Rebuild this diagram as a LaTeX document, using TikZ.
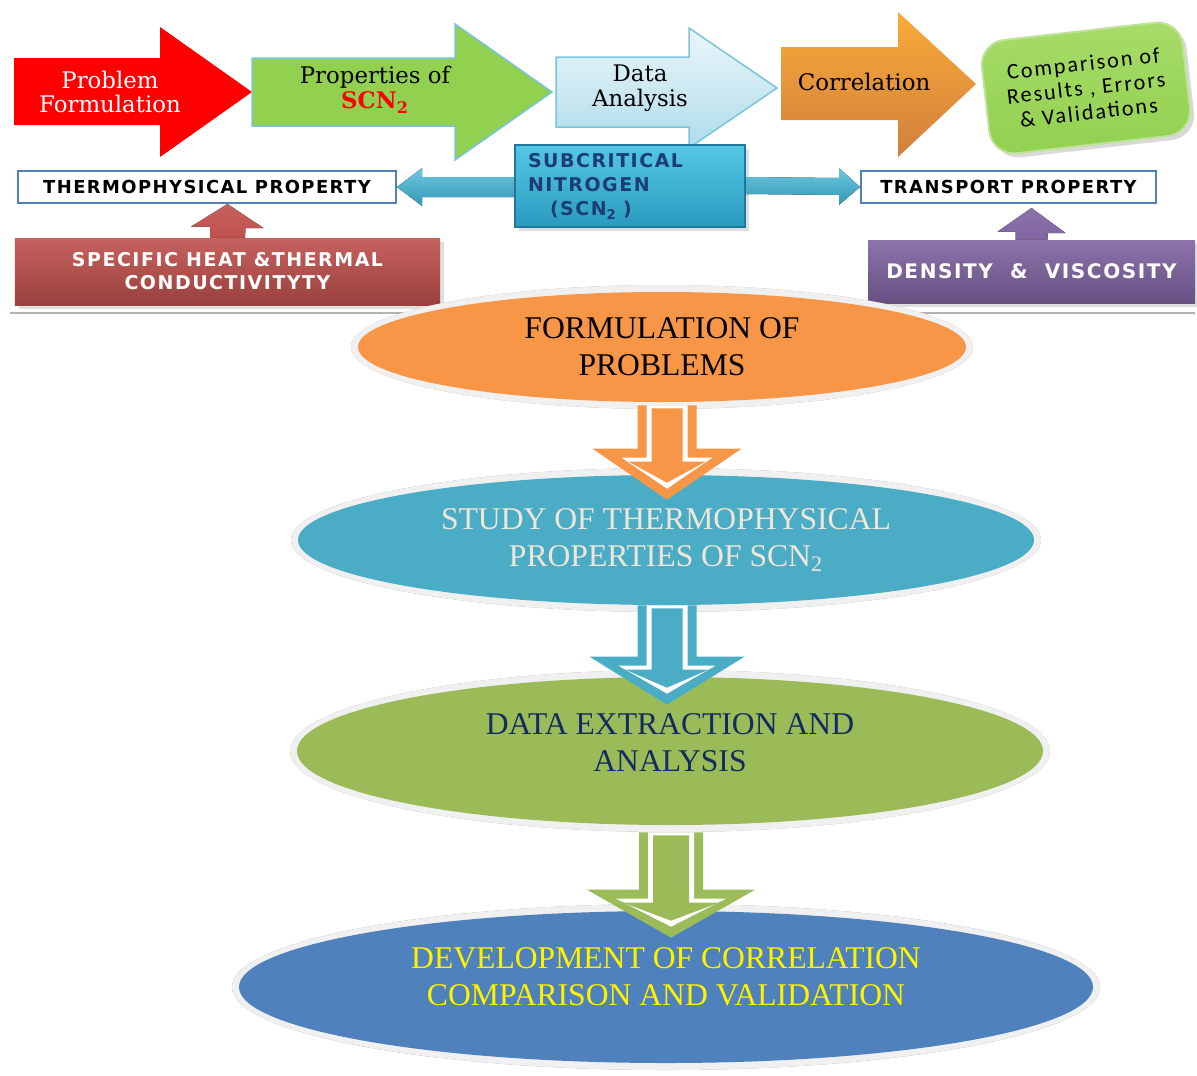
\documentclass[tikz,border=0pt]{standalone}
\usepackage{fontspec}
\setmainfont{Liberation Serif}
\newfontfamily\arrowfont{DejaVu Serif}
\newfontfamily\boxfont{DejaVu Sans}[LetterSpace=8]
\newfontfamily\cmpfont{Carlito}[LetterSpace=9]
\usetikzlibrary{calc,shapes.geometric,shadows}

\definecolor{sgreen}{HTML}{92D050}
\definecolor{lblue}{HTML}{78C4DC}
\definecolor{boxblue}{HTML}{4F81BD}
\definecolor{redbox}{HTML}{C0504D}
\definecolor{purp}{HTML}{8064A2}
\definecolor{orgA}{HTML}{F79646}
\definecolor{tealA}{HTML}{4BACC6}
\definecolor{grnA}{HTML}{9BBB59}
\definecolor{bluA}{HTML}{4F81BD}
\definecolor{rimgray}{HTML}{F0F0F0}
\definecolor{shdorg}{HTML}{C9A07F}
\definecolor{shdteal}{HTML}{8DA7B2}
\definecolor{shdgrn}{HTML}{A2AC8E}
\definecolor{shdblu}{HTML}{8D99AD}
\definecolor{navytxt}{HTML}{132C60}
\definecolor{creamtxt}{HTML}{EFE6DA}
\definecolor{scntxt}{HTML}{1B3D73}
\definecolor{scntop}{HTML}{55C7E5}
\definecolor{scnbot}{HTML}{2A9BC0}
\definecolor{scnline}{HTML}{20789A}
\definecolor{cmptop}{HTML}{A6DC68}
\definecolor{cmpline}{HTML}{BFE39A}
\definecolor{cyantop}{HTML}{6DC8E0}
\definecolor{cyanbot}{HTML}{3397B5}

\tikzset{
  steptext/.style={font=\arrowfont\fontsize{13}{14.2}\selectfont, align=center, inner sep=0pt},
  propbox/.style={draw=boxblue, line width=0.4mm, fill=white, minimum height=6.4mm, inner sep=0pt,
    font=\boxfont\bfseries\fontsize{10.2}{12}\selectfont},
  colbox/.style={minimum height=13.4mm, inner sep=0pt, align=center, text=white, drop shadow={opacity=0.25},
    font=\boxfont\bfseries\fontsize{10.8}{13.1}\selectfont},
  scnbox/.style={top color=scntop, bottom color=scnbot, draw=scnline, line width=0.3mm,
    minimum width=46mm, minimum height=16.4mm, text width=40.8mm, align=left, inner sep=0pt,
    text=scntxt, drop shadow={opacity=0.25}, font=\boxfont\bfseries\fontsize{10.8}{13.9}\selectfont},
  cmpbox/.style={rounded corners=5mm, top color=cmptop, bottom color=sgreen, draw=cmpline, line width=0.4mm,
    minimum width=40.4mm, minimum height=22.8mm, align=center, inner sep=0pt,
    drop shadow={opacity=0.3}, font=\cmpfont\fontsize{12.6}{14}\selectfont},
  cyanarr/.style={top color=cyantop, bottom color=cyanbot},
  ellip/.style={ellipse, inner sep=0pt},
  etext/.style={font=\fontsize{18}{21}\selectfont, align=center, inner sep=0pt}
}

\begin{document}
\begin{tikzpicture}[x=0.2mm, y=-0.2mm]
\useasboundingbox (0,0) rectangle (1197,1075);

%top row of steps
\fill[red] (14,58) -- (160,58) -- (160,27) -- (252,92) -- (160,157) -- (160,125) -- (14,125) -- cycle;
\node[steptext, text=white] (prob) at (110,92) {Problem\\Formulation};
\filldraw[fill=sgreen, draw=lblue, line width=0.3mm] (252,58) -- (455,58) -- (455,24) -- (552,92) -- (455,160) -- (455,126) -- (252,126) -- cycle;
\node[steptext] (prop) at (375,90) {Properties of\\\textcolor{red}{\textbf{SCN\textsubscript{2}}}};
\shadedraw[top color=white!85!lblue, bottom color=lblue!60, draw=lblue, line width=0.3mm] (556,57) -- (689,57) -- (689,28) -- (777,88) -- (689,148) -- (689,127) -- (556,127) -- cycle;
\node[steptext] (data) at (640,88) {Data\\Analysis};
\shade[top color=orgA!80!yellow, bottom color=orgA!85!black] (781,47) -- (898,47) -- (898,12) -- (976,84) -- (898,157) -- (898,120) -- (781,120) -- cycle;
\node[steptext] (corr) at (864,82) {Correlation};
\node[cmpbox, rotate=6.5] (cmp) at (1086,88) {Comparison of\\Results , Errors\\\& Validations};

%property boxes
\node[propbox, minimum width=75.6mm] (thermo) at (207,187) {THERMOPHYSICAL PROPERTY};
\node[propbox, minimum width=59mm] (trans) at (1008.5,187) {TRANSPORT PROPERTY};
\node[scnbox] (scn) at (630,186) {SUBCRITICAL\\NITROGEN\\\hspace*{4.4mm}(SCN\textsubscript{2} )};
\fill[cyanarr] (thermo.east) -- ++(25,-19) -- ++(0,9) -- ($(scn.west)+(0,-9)$) -- ($(scn.west)+(0,11)$)
  -- ($(thermo.east)+(25,10)$) -- ($(thermo.east)+(25,19)$) -- cycle;
\fill[cyanarr] ($(scn.east)+(0,-9)$) -- ($(trans.west)+(-21,-9)$) -- ($(trans.west)+(-21,-19)$) -- (trans.west)
  -- ($(trans.west)+(-21,18)$) -- ($(trans.west)+(-21,8)$) -- ($(scn.east)+(0,8)$) -- cycle;

\node[colbox, top color=redbox!90!white, bottom color=redbox!80!black, minimum width=85mm] (spec) at (227.5,271.5) {SPECIFIC HEAT \&THERMAL\\CONDUCTIVITYTY};
\node[colbox, top color=purp!90!white, bottom color=purp!80!black, minimum width=65.4mm, minimum height=12.6mm,
  font=\boxfont\bfseries\fontsize{11.4}{13}\selectfont] (den) at (1031.5,271.5) {DENSITY~~\&~~VISCOSITY};
\fill[top color=redbox!90!white, bottom color=redbox] (spec.north |- thermo.south) -- ++(36,24) -- ++(-18,0)
  -- ($(spec.north)+(17.5,0)$) -- ($(spec.north)+(-17.5,0)$) -- ($(spec.north)+(-17.5,-11)$) -- ++(-19,0) -- cycle;
\coordinate (dtip) at ($(den.north |- trans.south)+(0,4)$);
\fill[top color=purp!90!white, bottom color=purp] (dtip) -- ++(34,25) -- ++(-18,0)
  -- ($(den.north)+(16,0)$) -- ($(den.north)+(-16,0)$) -- ($(den.north)+(-16,-8)$) -- ++(-18,0) -- cycle;

%separator
\draw[gray!60, line width=0.4mm] (10,313) -- (1195,313);

%stages
\coordinate (c1) at (662,347);
\fill[shdorg, yshift=-1.2mm] (c1) ellipse (62.2mm and 12.4mm);
\fill[rimgray] (c1) ellipse (62.2mm and 12.4mm);
\node[ellip, fill=orgA, minimum width=121.6mm, minimum height=22mm] (e1) at (c1) {};
\node[etext] (e1t) at (e1) {FORMULATION OF\\PROBLEMS};

\coordinate (c2) at (666,540);
\fill[shdteal, yshift=-1.2mm] (c2) ellipse (75mm and 14.4mm);
\fill[rimgray] (c2) ellipse (75mm and 14.4mm);
\node[ellip, fill=tealA, minimum width=147.2mm, minimum height=26mm] (e2) at (c2) {};
\node[etext, text=creamtxt] (e2t) at (e2) {STUDY OF THERMOPHYSICAL\\PROPERTIES OF SCN\textsubscript{2}};

\coordinate (c3) at (670,751);
\fill[shdgrn, yshift=-1.2mm] (c3) ellipse (76mm and 16.2mm);
\fill[rimgray] (c3) ellipse (76mm and 16.2mm);
\node[ellip, fill=grnA, minimum width=149.2mm, minimum height=29.6mm] (e3) at (c3) {};
\node[etext, text=navytxt] (e3t) at ([yshift=1.6mm]e3.center) {DATA EXTRACTION AND\\ANALYSIS};

\coordinate (c4) at (666,987);
\fill[shdblu, yshift=-1.2mm] (c4) ellipse (86.8mm and 16.6mm);
\fill[rimgray] (c4) ellipse (86.8mm and 16.6mm);
\node[ellip, fill=bluA, minimum width=170.8mm, minimum height=30.4mm] (e4) at (c4) {};
\node[etext, text=yellow] (e4t) at ([yshift=2mm]e4.center) {DEVELOPMENT OF CORRELATION\\COMPARISON AND VALIDATION};

%hollow arrows between stages
\foreach \src/\dst/\ox/\otop/\otip/\sw/\hw/\hl/\col in
  {e1/e2/5/3/25/29.5/74.5/51/orgA, e2/e3/1/0/28/29.5/77.5/48/tealA, e3/e4/1/7/27/32/84/48/grnA}{
  \coordinate (t) at ($(\src.south)+(\ox,\otop)$);
  \coordinate (p) at ($(t |- \dst.north)+(0,\otip)$);
  \fill[\col] ($(t)+(-\sw,0)$) -- ($(t)+(\sw,0)$) -- ($(p)+(\sw,-\hl)$) -- ($(p)+(\hw,-\hl)$) -- (p)
    -- ($(p)+(-\hw,-\hl)$) -- ($(p)+(-\sw,-\hl)$) -- cycle;
  \fill[white] ($(t)+(-\sw+9,0)$) -- ($(t)+(\sw-9,0)$) -- ($(p)+(\sw-9,-\hl+9)$) -- ($(p)+(\hw-29,-\hl+9)$)
    -- ($(p)+(0,-11)$) -- ($(p)+(-\hw+29,-\hl+9)$) -- ($(p)+(-\sw+9,-\hl+9)$) -- cycle;
  \fill[\col] ($(t)+(-\sw+14,3)$) -- ($(t)+(\sw-14,3)$) -- ($(p)+(\sw-14,-\hl+13)$) -- ($(p)+(\hw-36,-\hl+13)$)
    -- ($(p)+(0,-17)$) -- ($(p)+(-\hw+36,-\hl+13)$) -- ($(p)+(-\sw+14,-\hl+13)$) -- cycle;
}
\end{tikzpicture}
\end{document}
